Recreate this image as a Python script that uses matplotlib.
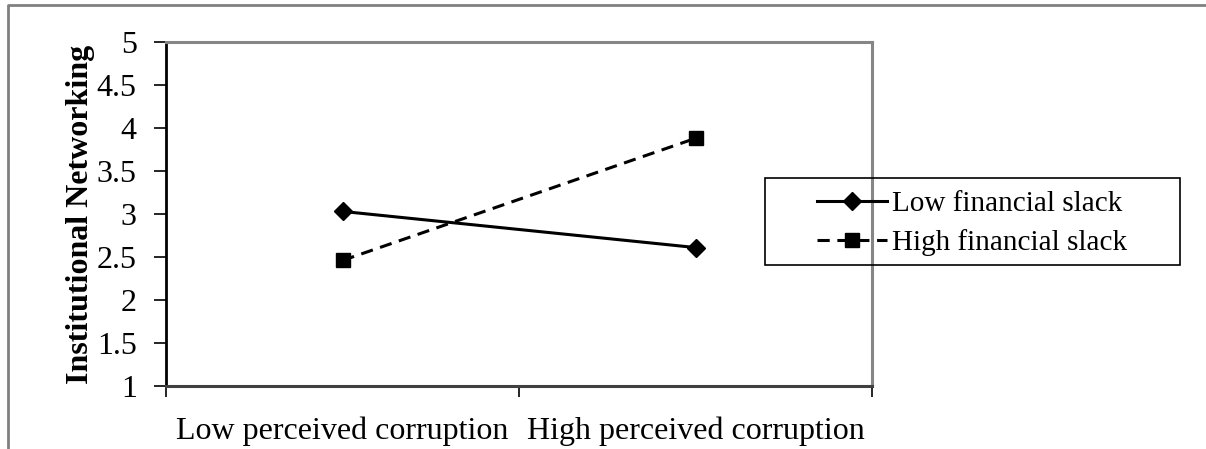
import matplotlib
matplotlib.use("Agg")
import matplotlib.pyplot as plt
from matplotlib.patches import Rectangle
from matplotlib.lines import Line2D

# data
conditions = ["Low perceived corruption", "High perceived corruption"]
low_slack = [3.03, 2.61]
high_slack = [2.46, 3.88]
series_names = ["Low financial slack", "High financial slack"]
y_ticks = [1, 1.5, 2, 2.5, 3, 3.5, 4, 4.5, 5]
y_tick_labels = ["1", "1.5", "2", "2.5", "3", "3.5", "4", "4.5", "5"]

plt.rcParams["font.family"] = ["Liberation Serif", "DejaVu Serif"]
plt.rcParams["font.size"] = 23

fig = plt.figure(figsize=(12.06, 4.49), dpi=100)
ax = fig.add_axes([166 / 1206, 1 - 386 / 449, (872 - 166) / 1206, (386 - 42) / 449])

x = list(range(len(conditions)))
ax.plot(x, low_slack, color="black", lw=2.2, marker="D", ms=9,
        label=series_names[0])
ax.plot(x, high_slack, color="black", lw=2.2, ls=(0, (4, 2.5)), marker="s", ms=10,
        label=series_names[1])

ax.set_xlim(-0.5, len(conditions) - 0.5)
ax.set_ylim(1, 5)
ax.set_yticks(y_ticks)
ax.set_yticklabels(y_tick_labels)
ax.set_xticks(x)
ax.set_xticklabels(conditions)
ax.tick_params(axis="x", which="major", length=0, pad=22)
ax.set_xticks([i - 0.5 for i in range(len(conditions) + 1)], minor=True)
ax.tick_params(axis="x", which="minor", length=8, width=1.2, direction="out")
ax.tick_params(axis="y", length=9, width=1.2, direction="out", pad=12)

ax.spines["left"].set_color("black")
ax.spines["left"].set_linewidth(2)
ax.spines["bottom"].set_color("#404040")
ax.spines["bottom"].set_linewidth(2.2)
for side in ["top", "right"]:
    ax.spines[side].set_color("#868686")
    ax.spines[side].set_linewidth(2.2)

ax.set_ylabel("Institutional Networking", fontweight="bold", labelpad=1)

leg = fig.legend(loc="center left", bbox_to_anchor=(802 / 1206, 1 - 223.5 / 449),
                 frameon=False, borderpad=0, handlelength=2.4, handletextpad=0.2,
                 labelspacing=0.42, fontsize=21)
fig.add_artist(Rectangle((765 / 1206, 1 - 265 / 449), (1180 - 765) / 1206, 87 / 449,
                         transform=fig.transFigure, fill=False, ec="black", lw=1.2))

# outer chart border (top and left only visible)
fig.add_artist(Line2D([8 / 1206, 8 / 1206, 1.0], [0.0, 1 - 5 / 449, 1 - 5 / 449],
                      transform=fig.transFigure, color="#808080", lw=2))

fig.savefig("out.png", dpi=100)
